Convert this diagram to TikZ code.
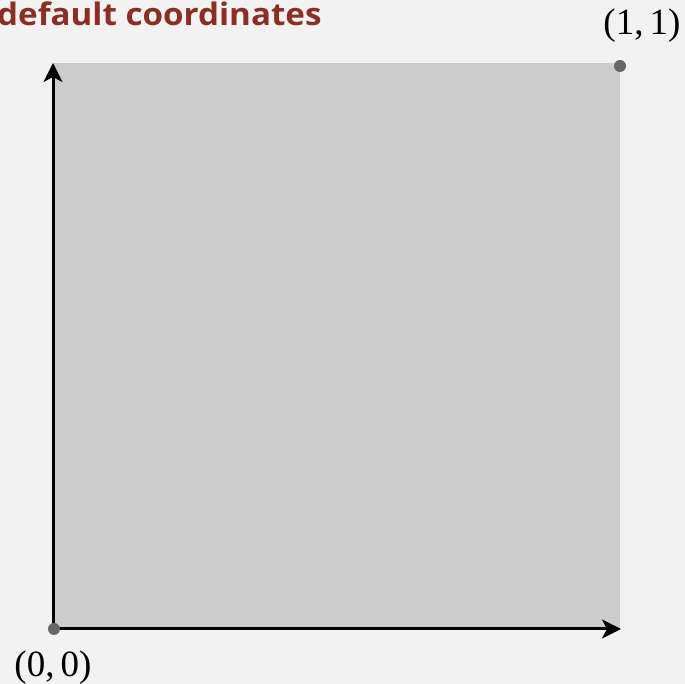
\documentclass[tikz,border=0pt]{standalone}
\usepackage{fontspec}
\setmainfont{Liberation Serif}
\newfontfamily\titlefont[FakeStretch=1.07]{Open Sans}
\usetikzlibrary{arrows.meta}
\definecolor{bg}{HTML}{F2F2F2}
\definecolor{sq}{HTML}{CCCCCC}
\definecolor{dotc}{HTML}{666666}
\definecolor{titlec}{RGB}{139,47,36}
\tikzset{
  axis/.style={line width=3pt,-{Stealth[length=19pt,width=19pt,inset=5pt]}},
  pt/.style={circle,fill=dotc,inner sep=0pt,minimum size=12pt},
  lbl/.style={inner sep=0pt,font=\fontsize{37}{42}\selectfont}
}
\begin{document}
\begin{tikzpicture}[x=1pt,y=1pt]
\fill[bg] (0,0) rectangle (685,684);
\useasboundingbox (0,0) rectangle (685,684);
\fill[sq] (53,55) rectangle (620,621);
\coordinate (o) at (53,55);
\coordinate (xe) at (621,55);
\coordinate (ye) at (53,621);
\draw[axis] (o) -- (xe);
\draw[axis] (o) -- (ye);
\node[pt] (p0) at (54,55) {};
\node[pt] (p1) at (620,618) {};
\node[lbl] (l0) at (53,16) {(0,\,0)};
\node[lbl] (l1) at (642,658) {(1,\,1)};
\node[anchor=base west,inner sep=0pt,text=titlec,font=\titlefont\bfseries\fontsize{31}{36}\selectfont] (t) at (-3,658) {default coordinates};
\end{tikzpicture}
\end{document}
